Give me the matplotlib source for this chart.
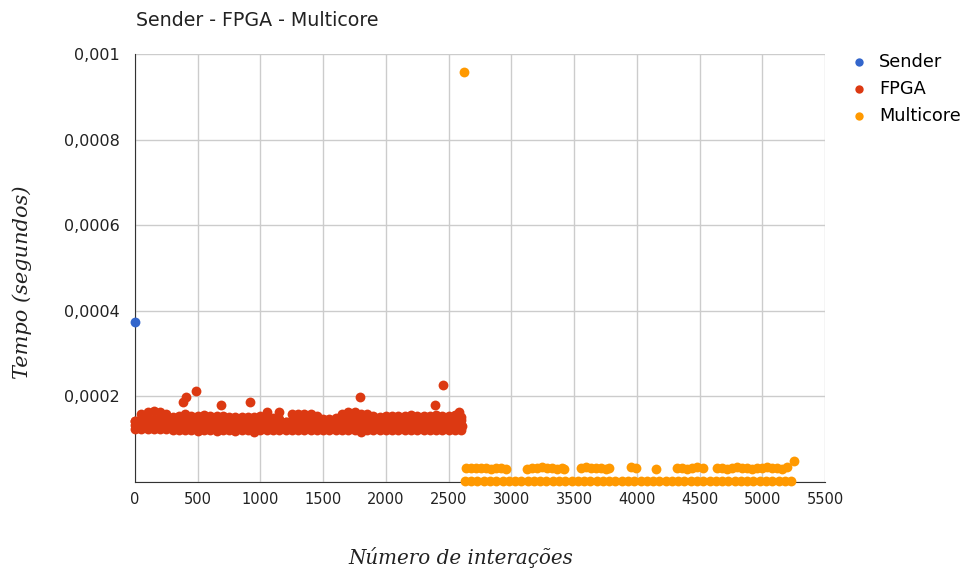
import numpy as np
import matplotlib.pyplot as plt
from matplotlib.ticker import FuncFormatter, MultipleLocator

# Sender: a single measurement at the start
sender_x = [0]
sender_y = [0.000375]

# FPGA: dense band, read as four rows every 50 iterations (0..2600)
fpga_x = np.arange(0, 2601, 50)
fpga_bottom = [
    0.000124, 0.000124, 0.000123, 0.000123, 0.000124, 0.000123, 0.000122, 0.000122, 0.000121, 0.000121,
    0.000120, 0.000121, 0.000121, 0.000120, 0.000121, 0.000121, 0.000120, 0.000121, 0.000121, 0.000117,
    0.000121, 0.000121, 0.000122, 0.000121, 0.000121, 0.000122, 0.000121, 0.000122, 0.000122, 0.000121,
    0.000121, 0.000122, 0.000121, 0.000121, 0.000122, 0.000121, 0.000117, 0.000121, 0.000122, 0.000121,
    0.000122, 0.000121, 0.000122, 0.000122, 0.000121, 0.000122, 0.000121, 0.000122, 0.000122, 0.000121,
    0.000122, 0.000122, 0.000122,
]
fpga_low = [
    0.000133, 0.000133, 0.000134, 0.000133, 0.000133, 0.000134, 0.000133, 0.000133, 0.000134, 0.000133,
    0.000133, 0.000134, 0.000133, 0.000133, 0.000134, 0.000133, 0.000133, 0.000134, 0.000133, 0.000133,
    0.000134, 0.000133, 0.000133, 0.000134, 0.000133, 0.000133, 0.000134, 0.000133, 0.000133, 0.000134,
    0.000133, 0.000133, 0.000134, 0.000133, 0.000133, 0.000134, 0.000133, 0.000133, 0.000134, 0.000133,
    0.000133, 0.000134, 0.000133, 0.000133, 0.000134, 0.000133, 0.000133, 0.000134, 0.000133, 0.000133,
    0.000134, 0.000133, 0.000133,
]
fpga_mid = [
    0.000143, 0.000146, 0.000147, 0.000147, 0.000147, 0.000146, 0.000145, 0.000145, 0.000146, 0.000145,
    0.000145, 0.000146, 0.000145, 0.000145, 0.000145, 0.000144, 0.000144, 0.000144, 0.000144, 0.000144,
    0.000145, 0.000147, 0.000144, 0.000147, 0.000140, 0.000146, 0.000146, 0.000146, 0.000146, 0.000145,
    0.000144, 0.000144, 0.000144, 0.000146, 0.000147, 0.000147, 0.000146, 0.000146, 0.000145, 0.000144,
    0.000145, 0.000145, 0.000145, 0.000145, 0.000145, 0.000145, 0.000145, 0.000145, 0.000145, 0.000145,
    0.000145, 0.000145, 0.000144,
]
fpga_top = [
    0.000143, 0.000159, 0.000164, 0.000166, 0.000164, 0.000159, 0.000152, 0.000154, 0.000159, 0.000154,
    0.000154, 0.000157, 0.000154, 0.000154, 0.000154, 0.000152, 0.000152, 0.000152, 0.000152, 0.000152,
    0.000154, 0.000164, 0.000150, 0.000164, 0.000140, 0.000159, 0.000159, 0.000159, 0.000159, 0.000154,
    0.000147, 0.000147, 0.000150, 0.000159, 0.000164, 0.000164, 0.000159, 0.000159, 0.000154, 0.000152,
    0.000154, 0.000154, 0.000154, 0.000154, 0.000157, 0.000154, 0.000154, 0.000154, 0.000157, 0.000154,
    0.000154, 0.000157, 0.000152,
]
# FPGA outliers above the band
fpga_out_x = [383, 406, 486, 686, 917, 1793, 2391, 2455, 2583, 2610]
fpga_out_y = [0.000188, 0.000198, 0.000212, 0.000181, 0.000186, 0.000198, 0.000179, 0.000226, 0.000164, 0.000130]

# Multicore: flat row near zero, a second row around 3e-5 with gaps, one outlier
multi_x = np.arange(2630, 5251, 50)
multi_bottom = [
    0.000002, 0.000002, 0.000002, 0.000002, 0.000002, 0.000002, 0.000002, 0.000002, 0.000002, 0.000002,
    0.000002, 0.000002, 0.000002, 0.000002, 0.000002, 0.000002, 0.000002, 0.000002, 0.000002, 0.000002,
    0.000002, 0.000002, 0.000002, 0.000002, 0.000002, 0.000002, 0.000002, 0.000002, 0.000002, 0.000002,
    0.000002, 0.000002, 0.000002, 0.000002, 0.000002, 0.000002, 0.000002, 0.000002, 0.000002, 0.000002,
    0.000002, 0.000002, 0.000002, 0.000002, 0.000002, 0.000002, 0.000002, 0.000002, 0.000002, 0.000002,
    0.000002, 0.000002, 0.000002,
]
multi_hi_x = [
    2640, 2680, 2720, 2760, 2800, 2840, 2880, 2920, 2957,
    3125, 3165, 3205, 3245, 3285, 3325, 3365, 3405, 3420,
    3555, 3595, 3635, 3675, 3715, 3755, 3778,
    3955, 3995, 4150,
    4320, 4360, 4400, 4440, 4480, 4528,
    4640, 4680, 4720, 4760, 4800, 4840, 4880, 4920, 4960, 5000, 5040, 5080, 5120, 5160, 5200, 5250,
]
multi_hi_y = [
    0.000032, 0.000032, 0.000033, 0.000032, 0.000032, 0.000031, 0.000032, 0.000033, 0.000030,
    0.000031, 0.000033, 0.000032, 0.000034, 0.000032, 0.000033, 0.000031, 0.000032, 0.000030,
    0.000033, 0.000034, 0.000032, 0.000033, 0.000032, 0.000031, 0.000033,
    0.000034, 0.000032, 0.000030,
    0.000033, 0.000032, 0.000031, 0.000033, 0.000034, 0.000032,
    0.000032, 0.000033, 0.000031, 0.000032, 0.000034, 0.000033, 0.000032, 0.000031, 0.000033, 0.000032,
    0.000034, 0.000032, 0.000033, 0.000031, 0.000035, 0.000048,
]
multi_out_x = [2622]
multi_out_y = [0.000958]

blue = "#3366cc"
red = "#dc3912"
orange = "#ff9900"
size = 50

fig = plt.figure(figsize=(9.72, 5.77), dpi=100)
ax = fig.add_axes([135 / 972, 1 - 482 / 577, 690 / 972, 428 / 577])

kw = dict(s=size, linewidths=0, clip_on=False, zorder=3)
ax.scatter(sender_x, sender_y, color=blue, label="Sender", **kw)
ax.scatter(fpga_x, fpga_bottom, color=red, label="FPGA", **kw)
for row in (fpga_low, fpga_mid, fpga_top):
    ax.scatter(fpga_x, row, color=red, **kw)
ax.scatter(fpga_out_x, fpga_out_y, color=red, **kw)
ax.scatter(multi_x, multi_bottom, color=orange, label="Multicore", **kw)
ax.scatter(multi_hi_x, multi_hi_y, color=orange, **kw)
ax.scatter(multi_out_x, multi_out_y, color=orange, **kw)

ax.set_xlim(0, 5500)
ax.set_ylim(0, 0.001)
ax.xaxis.set_major_locator(MultipleLocator(500))
ax.yaxis.set_major_locator(MultipleLocator(0.0002))
ax.yaxis.set_major_formatter(FuncFormatter(
    lambda v, p: "" if abs(v) < 1e-12 else f"{v:.4f}".rstrip("0").replace(".", ",")))

ax.grid(True, color="#cccccc", linewidth=1)
ax.set_axisbelow(True)
for side in ("top", "right"):
    ax.spines[side].set_visible(False)
for side in ("left", "bottom"):
    ax.spines[side].set_color("#333333")
ax.tick_params(length=0, colors="#222222")
ax.tick_params(axis="y", labelsize=11.5, pad=11)
ax.tick_params(axis="x", labelsize=10.5, pad=7)

fig.text(136 / 972, 1 - 20 / 577, "Sender - FPGA - Multicore", fontsize=13.7,
         color="#222222", va="center", ha="left")
fig.text(22 / 972, 1 - 282 / 577, "Tempo (segundos)", rotation=90, fontsize=15,
         family="DejaVu Serif", style="italic", color="#222222", va="center", ha="center")
fig.text(461 / 972, 1 - 558 / 577, "Número de interações", fontsize=14.3,
         family="DejaVu Serif", style="italic", color="#222222", va="center", ha="center")

fig.legend(loc="upper left", bbox_to_anchor=(841 / 972, 1 - 53 / 577), frameon=False,
           fontsize=12.8, handletextpad=0.15, labelspacing=0.5, markerscale=0.85,
           borderaxespad=0, borderpad=0)

fig.savefig("out.png", dpi=100)
